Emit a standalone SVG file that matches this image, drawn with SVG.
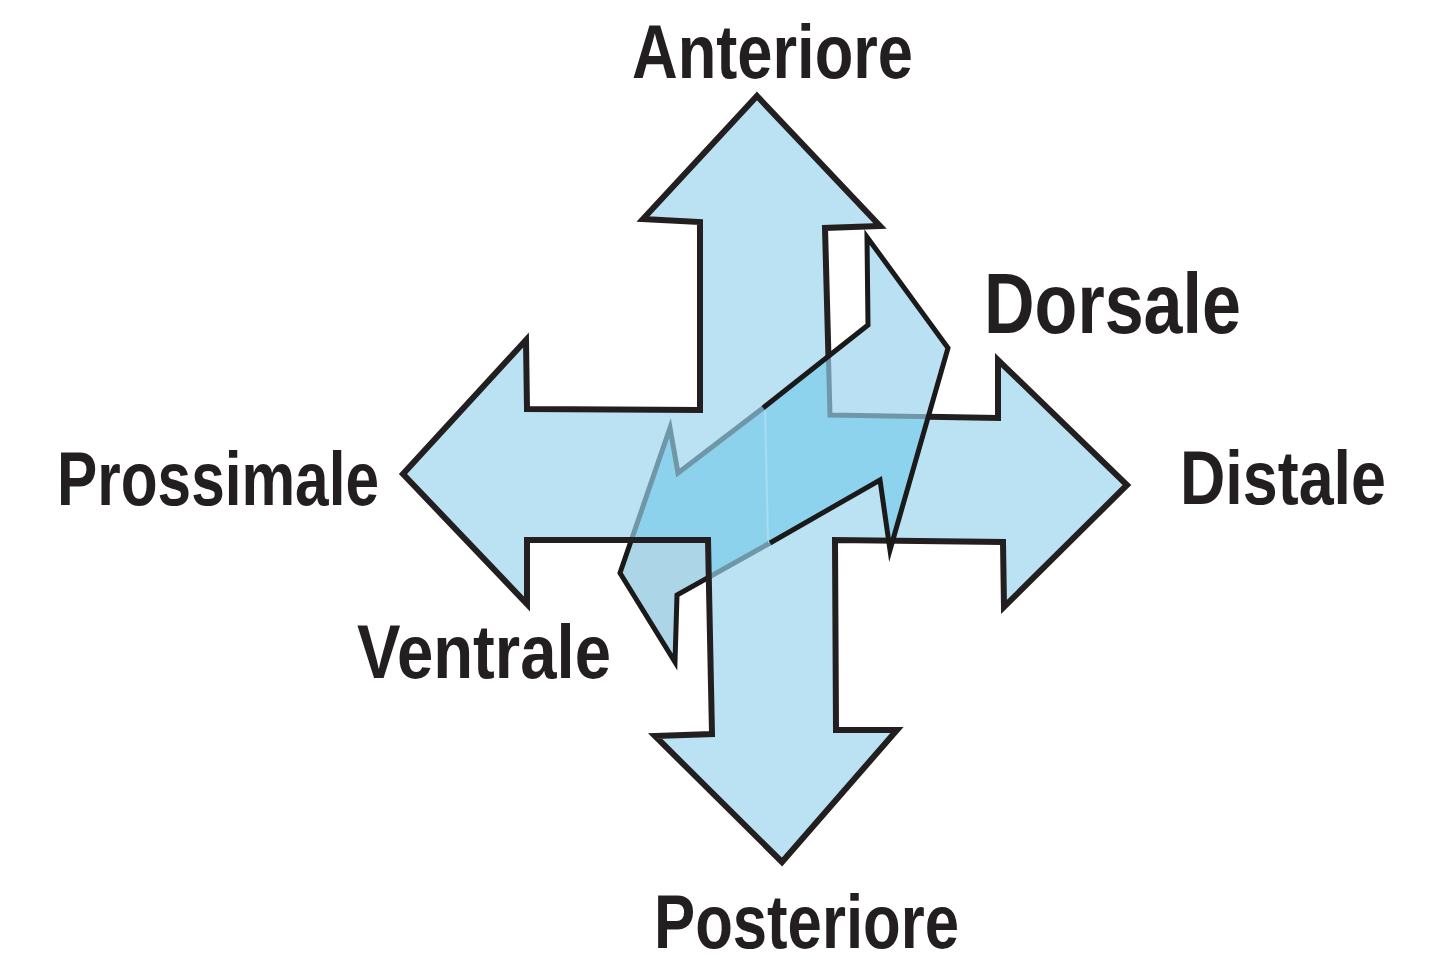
<svg xmlns="http://www.w3.org/2000/svg" width="1444" height="964" viewBox="0 0 1444 964">
  <style>
    .lbl { font-family: "Liberation Sans", Arial, sans-serif; font-weight: bold; fill: #231f20; }
    .dark { fill: none; stroke: #231f20; stroke-width: 6; stroke-linejoin: miter; stroke-miterlimit: 10; }
    .darkthin { fill: none; stroke: #1a1a1a; stroke-width: 5; stroke-linejoin: miter; stroke-miterlimit: 10; }
    .gray { fill: none; stroke: #6f97a8; stroke-width: 5; stroke-linejoin: miter; stroke-miterlimit: 10; }
  </style>
  <defs>
    <polygon id="crossShape" points="757,96 880,226 825,228 830,415 998,418 998,360 1127,485 1004,607 1003,542 835,540 836,730 897,730 782,862 655,736 712,734 708,540 527,540 527,604 403,474 526,340 527,409 700,410 700,222 643,219"/>
    <polygon id="ventralShape" points="765,408 678,473 670,428 620,573 675,662 677,595 768,543"/>
    <polygon id="dorsalShape" points="765,408 868,325 867,237 948,348 890,550 880,480 768,543"/>
    <clipPath id="clipCross"><use href="#crossShape"/></clipPath>
    <clipPath id="clipDorsal"><use href="#dorsalShape"/></clipPath>
  </defs>
  <rect width="1444" height="964" fill="#ffffff"/>

  <g id="ventral-back">
    <use href="#ventralShape" fill="#acd5e8"/>
    <polyline class="darkthin" points="763,408 678,473 670,428 620,573 675,662 677,595 770,543"/>
  </g>

  <g id="cross-arrow">
    <use href="#crossShape" fill="#bbe2f3"/>
    <g clip-path="url(#clipCross)">
      <use href="#ventralShape" fill="#8cd2ed"/>
      <polyline class="gray" points="763,408 678,473 670,428 620,573 675,662 677,595 770,543"/>
    </g>
    <use href="#crossShape" class="dark"/>
  </g>

  <g id="dorsal-front">
    <use href="#dorsalShape" fill="#b9e1f3"/>
    <g clip-path="url(#clipCross)">
      <use href="#dorsalShape" fill="#8ed3ee"/>
    </g>
    <g clip-path="url(#clipDorsal)">
      <use href="#crossShape" class="gray"/>
    </g>
    <polyline class="darkthin" points="763,408 868,325 867,237 948,348 890,550 880,480 770,543"/>
    <line x1="765" y1="411" x2="768" y2="540" stroke="#a9dcf0" stroke-width="2"/>
  </g>

  <g id="connectors"></g>

  <g id="label-anteriore"><text class="lbl" x="632" y="78" font-size="76" textLength="281" lengthAdjust="spacingAndGlyphs">Anteriore</text></g>
  <g id="label-dorsale"><text class="lbl" x="984" y="333" font-size="86" textLength="257" lengthAdjust="spacingAndGlyphs">Dorsale</text></g>
  <g id="label-prossimale"><text class="lbl" x="57" y="505" font-size="76" textLength="322" lengthAdjust="spacingAndGlyphs">Prossimale</text></g>
  <g id="label-distale"><text class="lbl" x="1180" y="504" font-size="76" textLength="206" lengthAdjust="spacingAndGlyphs">Distale</text></g>
  <g id="label-ventrale"><text class="lbl" x="357" y="678" font-size="76" textLength="254" lengthAdjust="spacingAndGlyphs">Ventrale</text></g>
  <g id="label-posteriore"><text class="lbl" x="654" y="948" font-size="76" textLength="305" lengthAdjust="spacingAndGlyphs">Posteriore</text></g>
</svg>
